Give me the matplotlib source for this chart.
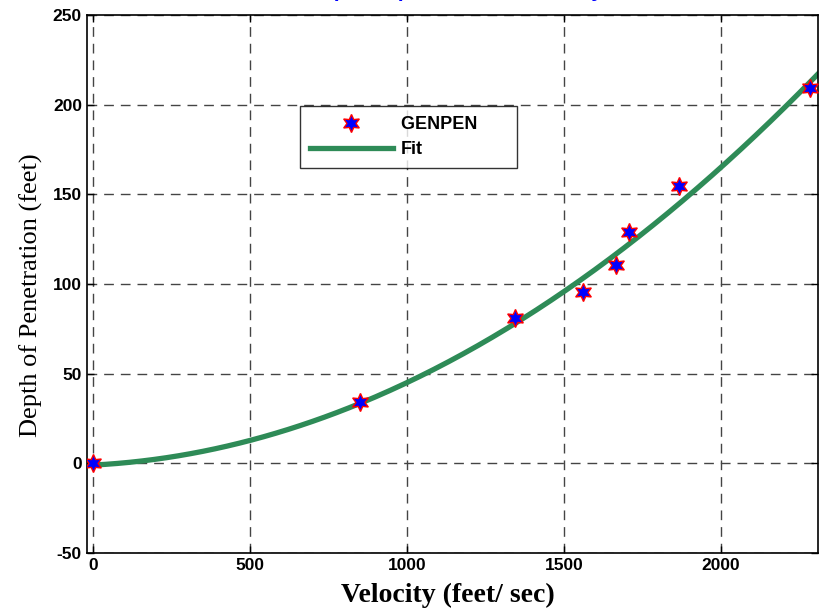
import numpy as np
import matplotlib
matplotlib.use('Agg')
import matplotlib.pyplot as plt

plt.rcParams['axes.unicode_minus'] = False

# GENPEN data points
velocity = [0, 850, 1344, 1560, 1666, 1707, 1866, 2283]
depth = [0, 34, 81, 95.5, 110.5, 129, 154.5, 209]

# quadratic fit coefficients (depth = a*v^2 + b*v + c)
fit_a = 3.7e-5
fit_b = 0.009
fit_c = -1.0

xticks = [0, 500, 1000, 1500, 2000]
yticks = [-50, 0, 50, 100, 150, 200, 250]

fig = plt.figure(figsize=(8.19, 6.11), dpi=100)
ax = fig.add_axes([0.106, 0.095, 0.893, 0.8805])

v = np.linspace(0, 2320, 300)
ax.plot(v, fit_a * v**2 + fit_b * v + fit_c, color='#2E8B57', lw=3.8, label='Fit', zorder=2)
ax.plot(velocity, depth, ls='none', marker=(6, 1, 0), ms=13, mfc='blue', mec='red',
        mew=1.0, label='GENPEN', zorder=3)

ax.set_xlim(-20, 2310)
ax.set_ylim(-50, 250)
ax.set_xticks(xticks)
ax.set_yticks(yticks)
ax.tick_params(direction='in', length=5, width=1, labelsize=12.5, top=True, right=True)
for lab in ax.get_xticklabels() + ax.get_yticklabels():
    lab.set_fontweight('bold')
    lab.set_family('Liberation Sans')
ax.grid(True, color='#444444', ls=(0, (7, 5)), lw=1.0)
for s in ax.spines.values():
    s.set_linewidth(1.2)

ax.set_xlabel('Velocity (feet/ sec)', fontsize=20, fontweight='bold', family='Liberation Serif')
ax.xaxis.set_label_coords(0.494, -0.055)
ax.xaxis.label.set_va('top')
ax.set_ylabel('Depth of Penetration (feet)', fontsize=19, family='Liberation Serif')
ax.yaxis.set_label_coords(-0.06, 0.48)

# title mostly cut off at the top of the figure
fig.text(0.555, 1.0045, 'Depth of penetration, Velocity', color='blue', fontsize=15,
         fontweight='bold', ha='center', va='baseline', family='Liberation Sans')

handles, labels = ax.get_legend_handles_labels()
leg = ax.legend(handles[::-1], ['GENPEN      ', 'Fit'], loc='upper left',
                bbox_to_anchor=(0.291, 0.83),
                prop={'family': 'Liberation Sans', 'weight': 'bold', 'size': 13},
                frameon=True, fancybox=False, edgecolor='black', handlelength=4.6,
                borderpad=0.55, labelspacing=0.45, handletextpad=0.45, borderaxespad=0)
leg.get_frame().set_linewidth(1.0)

fig.savefig('out.png', dpi=100)
